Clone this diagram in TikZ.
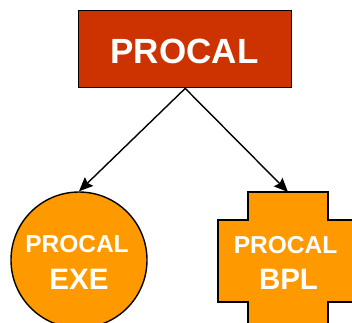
\documentclass[tikz,border=0pt]{standalone}
\usepackage{fontspec}
\setmainfont{Liberation Sans}
\usetikzlibrary{arrows.meta}
\definecolor{topred}{HTML}{CC3300}
\definecolor{orng}{HTML}{FF9900}
\tikzset{
  box/.style={draw=black, line width=1.4pt, fill=topred},
  shp/.style={draw=black, line width=1.4pt, fill=orng},
  lbl/.style={text=white, font=\bfseries, inner sep=0pt, anchor=base},
  conn/.style={line width=1.4pt, -{Stealth[length=14pt,width=12pt,inset=2pt]}}
}
\begin{document}
\begin{tikzpicture}[x=1pt,y=1pt]
\useasboundingbox (0,0) rectangle (352,-322);
\begin{scope}
\clip (0,0) rectangle (352,-322);
% top box
\node[box, minimum width=213pt, minimum height=77pt, inner sep=0pt, anchor=north west] (top) at (78,-10) {};
\node[lbl, font=\bfseries\fontsize{35}{40}\selectfont] (toptxt) at (184.5,-63) {PROCAL};
% circle
\node[shp, circle, minimum size=136pt, inner sep=0pt] (exe) at (79,-260) {};
\node[lbl, font=\bfseries\fontsize{24.5}{28}\selectfont] (exe1) at (77,-252) {PROCAL};
\node[lbl, font=\bfseries\fontsize{29.5}{34}\selectfont] (exe2) at (79,-289) {EXE};
% cross
\draw[shp] (248,-192) -- (328,-192) -- (328,-220) -- (358,-220) -- (358,-302) -- (328,-302)
  -- (328,-332) -- (248,-332) -- (248,-302) -- (218,-302) -- (218,-220) -- (248,-220) -- cycle;
\coordinate (bpltop) at (288,-192);
\node[lbl, font=\bfseries\fontsize{24.5}{28}\selectfont] (bpl1) at (285.5,-253) {PROCAL};
\node[lbl, font=\bfseries\fontsize{29.5}{34}\selectfont] (bpl2) at (288.5,-289) {BPL};
% connectors
\draw[conn] (top.south) -- (exe.north);
\draw[conn] (top.south) -- (bpltop);
\end{scope}
\end{tikzpicture}
\end{document}
